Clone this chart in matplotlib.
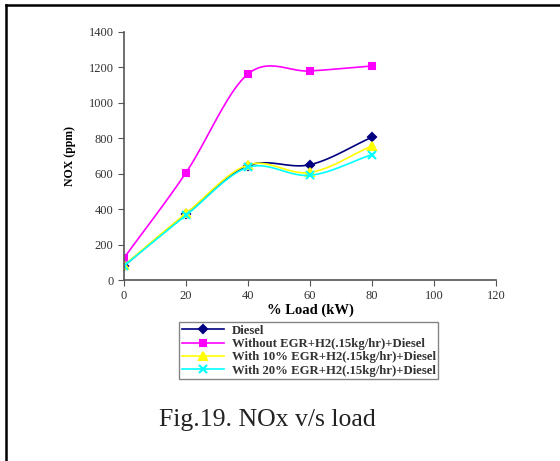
import numpy as np
import matplotlib.pyplot as plt
from matplotlib.lines import Line2D

load = [0, 20, 40, 60, 80]
diesel = [80, 372, 645, 651, 806]
without_egr = [124, 606, 1163, 1180, 1208]
egr10 = [84, 376, 650, 607, 757]
egr20 = [80, 365, 636, 591, 708]

labels = ["Diesel",
          "Without EGR+H2(.15kg/hr)+Diesel",
          "With 10% EGR+H2(.15kg/hr)+Diesel",
          "With 20% EGR+H2(.15kg/hr)+Diesel"]


def smooth(x, y, n=30):
    # catmull-rom curve through the points (looks like excel's smoothed line)
    x = np.asarray(x, float)
    y = np.asarray(y, float)
    px = np.concatenate([[2*x[0]-x[1]], x, [2*x[-1]-x[-2]]])
    py = np.concatenate([[2*y[0]-y[1]], y, [2*y[-1]-y[-2]]])
    xs, ys = [], []
    t = np.linspace(0, 1, n)
    for i in range(1, len(px)-2):
        for p, out in ((px, xs), (py, ys)):
            p0, p1, p2, p3 = p[i-1], p[i], p[i+1], p[i+2]
            out.extend(0.5*((2*p1) + (-p0+p2)*t + (2*p0-5*p1+4*p2-p3)*t**2
                            + (-p0+3*p1-3*p2+p3)*t**3))
    return np.array(xs), np.array(ys)


plt.rcParams['font.family'] = 'Liberation Serif'

fig = plt.figure(figsize=(5.6, 4.61), dpi=100)
ax = fig.add_axes([0.2214, 0.3926, 0.6643, 0.538])

series = [
    (diesel, '#000080', 'D', 4),
    (without_egr, '#ff00ff', 's', 5),
    (egr10, '#ffff00', '^', 6),
    (egr20, '#00ffff', 'x', 6),
]
handles = []
for (vals, col, mk, ms), lab in zip(series, labels):
    sx, sy = smooth(load, vals)
    ax.plot(sx, sy, color=col, lw=1.2)
    ax.plot(load, vals, ls='none', marker=mk, color=col, ms=ms, mew=1.5)
    handles.append(Line2D([], [], color=col, marker=mk, ms=ms, mew=1.5, lw=1.2))

ax.set_xlim(0, 120)
ax.set_ylim(0, 1400)
ax.set_xticks(range(0, 121, 20))
ax.set_yticks(range(0, 1401, 200))
for s in ['top', 'right']:
    ax.spines[s].set_visible(False)
for s in ['left', 'bottom']:
    ax.spines[s].set_color('#555555')
    ax.spines[s].set_linewidth(1.2)
ax.tick_params(labelsize=9, length=4, color='#555555', labelcolor='#333333')
ax.set_xlabel("% Load (kW)", fontsize=10.5, fontweight='bold', labelpad=1)
ax.set_ylabel("NOX (ppm)", fontsize=8.5, fontweight='bold', labelpad=9)

leg = fig.legend(handles, labels, loc='upper left',
                 bbox_to_anchor=(0.309, 0.315),
                 prop={'weight': 'bold', 'size': 9.2},
                 frameon=True, fancybox=False, handlelength=3.3,
                 borderpad=0.2, labelspacing=0.1, handletextpad=0.6)
leg.get_frame().set_edgecolor('#666666')
leg.get_frame().set_linewidth(1.0)
for t in leg.get_texts():
    t.set_color('#333333')

fig.text(0.477, 0.089, "Fig.19. NOx v/s load", ha='center', va='center',
         fontsize=18.5, color='#222222')

# page border lines (left and top)
fig.add_artist(Line2D([0.011, 0.011], [0, 0.989], color='black', lw=1.8,
                      transform=fig.transFigure))
fig.add_artist(Line2D([0.011, 1], [0.989, 0.989], color='black', lw=1.8,
                      transform=fig.transFigure))

fig.savefig("out.png", dpi=100)
